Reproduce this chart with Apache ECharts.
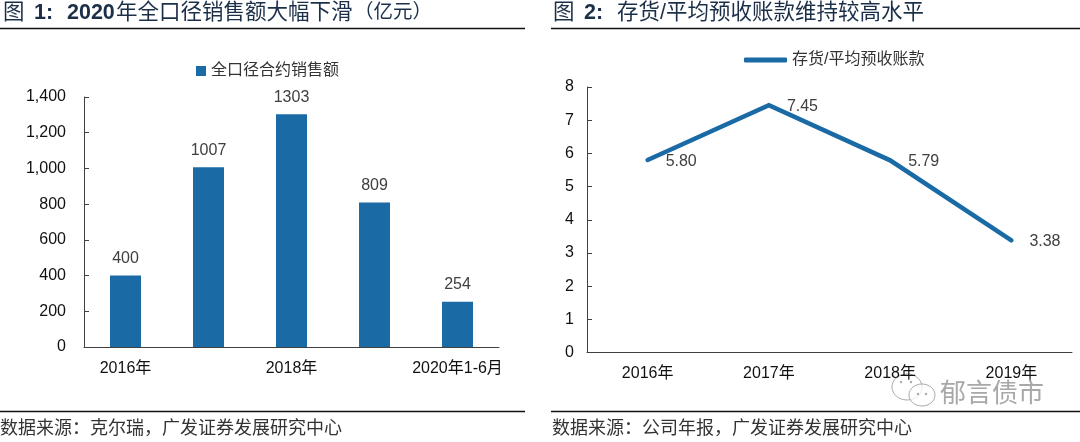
<!DOCTYPE html>
<html><head><meta charset="utf-8">
<style>html,body{margin:0;padding:0;background:#fff}#c{width:1080px;height:442px}</style>
<script src="https://cdn.jsdelivr.net/npm/echarts@6/dist/echarts.min.js"></script>
</head><body><div id="c"></div>
<script>
const FONT = '"Liberation Sans","Noto Sans CJK SC",sans-serif';
const BLUE = '#1a6ba5';
const barCategories = ['2016年','2017年','2018年','2019年','2020年1-6月'];
const barValues = [400,1007,1303,809,254];
const barName = '全口径合约销售额';
const lineCategories = ['2016年','2017年','2018年','2019年'];
const lineValues = [5.80,7.45,5.79,3.38];
const lineName = '存货/平均预收账款';
const source1 = '数据来源\uFF1A克尔瑞\uFF0C广发证券发展研究中心';
const source2 = '数据来源\uFF1A公司年报\uFF0C广发证券发展研究中心';
const watermark = '郁言债市';

function rule(x1,x2,y){return {type:'line',shape:{x1,y1:y,x2,y2:y},style:{stroke:'#111',lineWidth:1.5},silent:true};}
function txt(x,y,text,size,color,weight){return {type:'text',x,y,silent:true,style:{text,font:(weight||'normal')+' '+size+'px '+FONT,fill:color,textVerticalAlign:'middle'}};}
function bubble(cx,cy,rx,ry){return {type:'ellipse',shape:{cx,cy,rx,ry},silent:true,style:{fill:'rgba(255,255,255,0.75)',stroke:'#aaa',lineWidth:1}};}
function dot(cx,cy){return {type:'circle',shape:{cx,cy,r:1.2},silent:true,style:{fill:'#aaa'}};}
const TITLE = '#1b2f48';
const yAxisBase = {
  type:'value',
  axisLine:{show:true,lineStyle:{color:'#404040',width:1}},
  axisTick:{show:true,inside:true,length:5,lineStyle:{color:'#404040'}},
  splitLine:{show:false},
  axisLabel:{color:'#111',fontSize:16,fontFamily:FONT}
};
const xAxisBase = {
  type:'category',
  axisLine:{lineStyle:{color:'#404040',width:1}},
  axisTick:{show:false},
  axisLabel:{color:'#111',fontSize:16,fontFamily:FONT,margin:13}
};
const chart = echarts.init(document.getElementById('c'),null,{renderer:'canvas'});
chart.setOption({
  animation:false,
  backgroundColor:'#fff',
  grid:[
    {left:84,width:415,top:97,height:250},
    {left:587,width:485,top:87,height:265.5}
  ],
  legend:[
    {data:[barName],left:191,top:58,icon:'rect',itemWidth:10,itemHeight:10,itemGap:4,
     textStyle:{color:'#333',fontSize:16,fontFamily:FONT}},
    {data:[lineName],left:739,top:47,itemWidth:43,itemHeight:5,itemGap:4,icon:'roundRect',
     textStyle:{color:'#333',fontSize:16,fontFamily:FONT}}
  ],
  xAxis:[
    Object.assign({},xAxisBase,{gridIndex:0,data:barCategories,axisLabel:Object.assign({},xAxisBase.axisLabel,{interval:1,hideOverlap:false,margin:14})}),
    Object.assign({},xAxisBase,{gridIndex:1,data:lineCategories})
  ],
  yAxis:[
    Object.assign({},yAxisBase,{gridIndex:0,min:0,max:1400,interval:200,
      axisLabel:Object.assign({},yAxisBase.axisLabel,{margin:18,formatter:v=>v.toLocaleString('en-US')})}),
    Object.assign({},yAxisBase,{gridIndex:1,min:0,max:8,interval:1,
      axisLabel:Object.assign({},yAxisBase.axisLabel,{margin:13})})
  ],
  series:[
    {name:barName,type:'bar',xAxisIndex:0,yAxisIndex:0,data:barValues,barWidth:31,
     itemStyle:{color:BLUE},
     label:{show:true,position:'top',distance:9,color:'#404040',fontSize:16,fontFamily:FONT}},
    {name:lineName,type:'line',xAxisIndex:1,yAxisIndex:1,data:lineValues,smooth:false,
     showSymbol:true,symbol:'circle',symbolSize:2,
     lineStyle:{color:BLUE,width:4.5,cap:'round',join:'miter'},itemStyle:{color:BLUE},
     label:{show:true,position:'right',distance:17,offset:[0,1.5],color:'#404040',fontSize:16,fontFamily:FONT,
       formatter:p=>p.value.toFixed(2)}}
  ],
  graphic:[
    rule(0,525,28.5),rule(551,1080,28.5),rule(0,525,411.5),rule(551,1080,411.5),
    txt(3,13,'图',21.5,TITLE),
    txt(34,13,'1:',21.5,TITLE,'bold'),
    txt(67,13,'2020',21.5,TITLE,'bold'),
    txt(116,13,'年全口径销售额大幅下滑',21.5,TITLE),
    txt(354,13,'\uFF08亿元\uFF09',19.5,TITLE),
    txt(553,13,'图',21.5,TITLE),
    txt(584,13,'2:',21.5,TITLE,'bold'),
    txt(617,13,'存货/平均预收账款维持较高水平',21.5,TITLE),
    txt(0,429,source1,18,'#333'),
    txt(552,429,source2,18,'#333'),
    bubble(907,387,15,13),
    bubble(922,395,13,11),
    dot(901,382),dot(911,382),dot(918,394),dot(926,394),
    txt(940,395,watermark,26,'#a8a8a8')
  ]
});
</script></body></html>
